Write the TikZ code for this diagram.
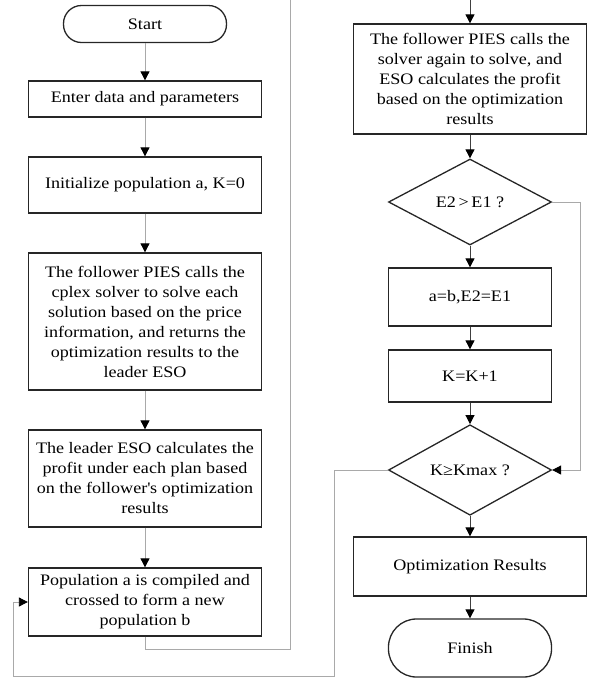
\documentclass[tikz,border=0pt]{standalone}
\usepackage[svgnames]{xcolor}
\usepackage{fontspec}
\setmainfont{Liberation Serif}[FakeStretch=1.13]
\usepackage{tikz}
\usetikzlibrary{arrows.meta,shapes.geometric}
\colorlet{boxLine}{black!85}
\colorlet{leftFlow}{DarkGray}
\colorlet{rightFlow}{black!75}
\colorlet{loopLine}{DarkGray}

\begin{document}
\begin{tikzpicture}[
  x=1pt, y=-1pt,
  every node/.style={
    font=\fontsize{16}{20}\selectfont,
    align=center,
    inner sep=2pt,
  },
  process/.style={
    draw=boxLine,
    line width=1.3pt,
    minimum width=233pt,
  },
  smallbox/.style={
    process,
    minimum width=163pt,
  },
  terminal/.style={
    draw=boxLine,
    line width=1.3pt,
    rounded corners=18pt,
    minimum width=163pt,
  },
  decision/.style={
    diamond,
    draw=boxLine,
    line width=1.3pt,
    inner sep=0pt,
    minimum width=163pt,
    minimum height=86pt,
  },
  flow/.style={
    line width=0.8pt,
    -{Triangle[length=9pt,width=9pt,color=black]},
  },
  loop/.style={
    draw=loopLine,
    line width=0.8pt,
  }
]
\useasboundingbox (0,0) rectangle (595,681);
% left column
\node[terminal,minimum height=37pt] (start) at (145,24) {Start};
\node[process,minimum height=36pt] (enter) at (145,99) {Enter data and parameters};
\node[process,minimum height=56pt] (init) at (145,185) {Initialize population a, K=0};
\node[process,minimum height=137pt] (follower) at (145,321.5)
  {The follower PIES calls the\\cplex solver to solve each\\solution based on the price\\information, and returns the\\optimization results to the\\leader ESO};
\node[process,minimum height=97pt] (leader) at (145,478.5)
  {The leader ESO calculates the\\profit under each plan based\\on the follower\textquotesingle s optimization\\results};
\node[process,minimum height=68pt] (popul) at (145,602)
  {Population a is compiled and\\crossed to form a new\\population b};
% right column
\node[process,minimum height=110pt] (solve) at (470,79)
  {The follower PIES calls the\\solver again to solve, and\\ESO calculates the profit\\based on the optimization\\results};
\node[decision] (cmpE) at (470,202) {E2\,\textgreater\,E1 ?};
\node[smallbox,minimum height=58pt] (update) at (470,297) {a=b,E2=E1};
\node[smallbox,minimum height=52pt] (incK) at (470,376) {K=K+1};
\node[decision,minimum height=85pt] (cmpK) at (470,470) {K≥Kmax ?};
\node[process,minimum height=59pt] (result) at (470,566.5) {Optimization Results};
\node[terminal,minimum height=58pt,rounded corners=28pt] (finish) at (470,648) {Finish};

\coordinate (topL) at (290,0);
\coordinate (topR) at (470,0);
\coordinate (backL) at (13,676);

\foreach \a/\b in {start/enter,enter/init,init/follower,follower/leader,leader/popul} {
  \draw[flow,leftFlow] (\a) -- (\b);
}
\foreach \a/\b in {solve/cmpE,cmpE/update,update/incK,incK/cmpK,cmpK/result,result/finish} {
  \draw[flow,rightFlow] (\a) -- (\b);
}
\draw[loop] (popul.south) -- ++(0,13) -| (topL);
\draw[flow,rightFlow] (topR) -- (solve);
\draw[flow,loopLine] (cmpE.east) -- ++(28,0) |- (cmpK.east);
\draw[flow,loopLine] (cmpK.west) -- ++(-53,0) |- (backL) |- (popul.west);
\end{tikzpicture}
\end{document}
